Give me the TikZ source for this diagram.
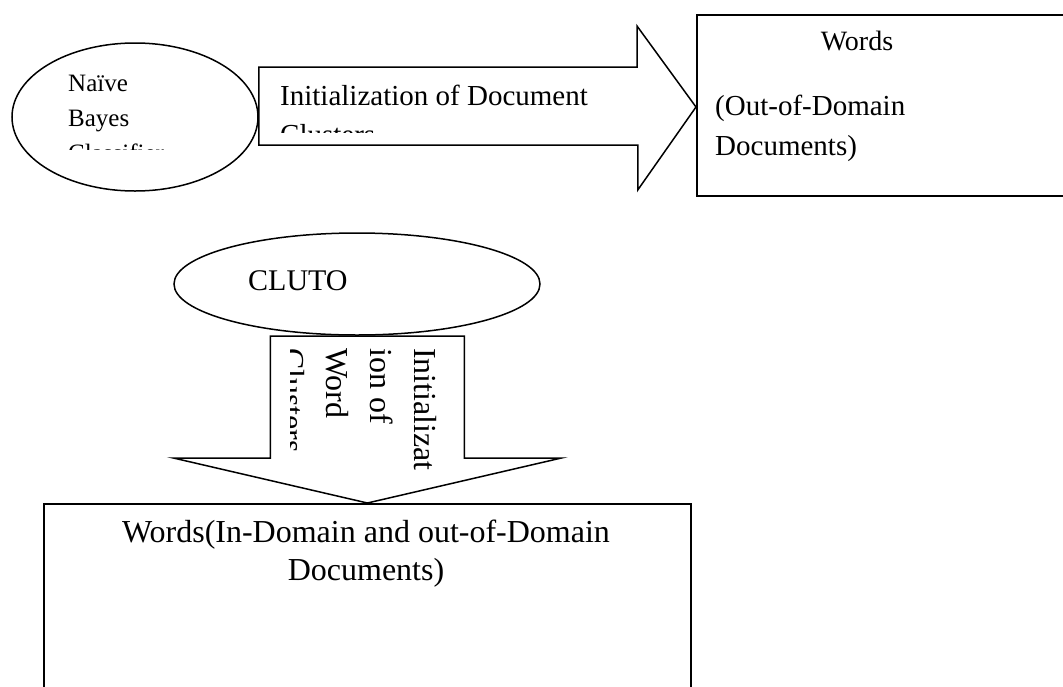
\documentclass[tikz,border=0pt]{standalone}
\usepackage{fontspec}
\setmainfont{Liberation Serif}
\usepackage{tikz}
\usetikzlibrary{shapes.geometric}
\usetikzlibrary{positioning}
\tikzset{
  flow chart/.style={
    class ellipse/.style={ellipse, draw, line width=1.5pt, inner sep=0pt},
    doc box/.style={rectangle, draw, line width=1.8pt, inner sep=0pt, anchor=north west},
    block arrow/.style={draw, fill=white, line width=1.5pt, line join=miter},
    box text/.style={inner sep=0pt, align=left},
  }
}
\newcommand{\fsize}[2]{\fontsize{#1}{#2}\selectfont}

\begin{document}
\begin{tikzpicture}[flow chart, x=1pt, y=-1pt]
    \useasboundingbox (0,0) rectangle (1063,686);
    \clip (0,0) rectangle (1063,686);

    \node[class ellipse, minimum width=246, minimum height=148] (bayes) at (135,117) {};
    \node[class ellipse, minimum width=366, minimum height=102] (cluto) at (357,284) {};
    \node[doc box, minimum width=400, minimum height=181] (outdoc) at (696,14) {};
    \node[doc box, minimum width=647, minimum height=260] (alldoc) at (43,503) {};

    \coordinate (tipA) at (outdoc.west |- 0,107);
    \draw[block arrow] (tipA) -- ++(-59,-81) -- ++(0,41) -- (bayes.east |- 0,67)
        -- (bayes.east |- 0,145) -- ++(379,0) -- ++(0,45) -- cycle;

    \coordinate (tipB) at (alldoc.north);
    \draw[block arrow] (tipB) -- ++(194,-45) -- ++(-97,0) -- ++(0,-122)
        -- ++(-194,0) -- ++(0,122) -- ++(-97,0) -- cycle;

    \begin{scope}
        \clip (12,60) rectangle (258,149);
        \node[box text, anchor=north west, font=\fsize{25}{35}] (bayestext) at (68,75) {Naïve\\Bayes\\Classifier};
    \end{scope}
    \begin{scope}
        \clip (258,67) rectangle (637,132);
        \node[box text, anchor=north west, font=\fsize{29}{39}] (doctext) at (280,85) {Initialization of Document\\Clusters};
    \end{scope}
    \begin{scope}
        \clip (290,336) rectangle (465,480);
        \node[box text, rotate=-90, anchor=north west, font=\fsize{32}{44}] (wordtext) at (437,348) {Initializat\\ion of\\Word\\Clusters};
    \end{scope}

    \node[box text, anchor=base, font=\fsize{28}{38}] (outtitle) at (857,50) {Words};
    \node[box text, anchor=north west, font=\fsize{29}{40}] (outtext) at (715,95) {(Out-of-Domain\\Documents)};
    \node[box text, anchor=base west, font=\fsize{30}{36}] (clutotext) at (248,290) {CLUTO};
    \node[box text, align=center, anchor=north, font=\fsize{32}{38}] (alltext) at (366,520) {Words(In-Domain and out-of-Domain\\Documents)};
\end{tikzpicture}
\end{document}
